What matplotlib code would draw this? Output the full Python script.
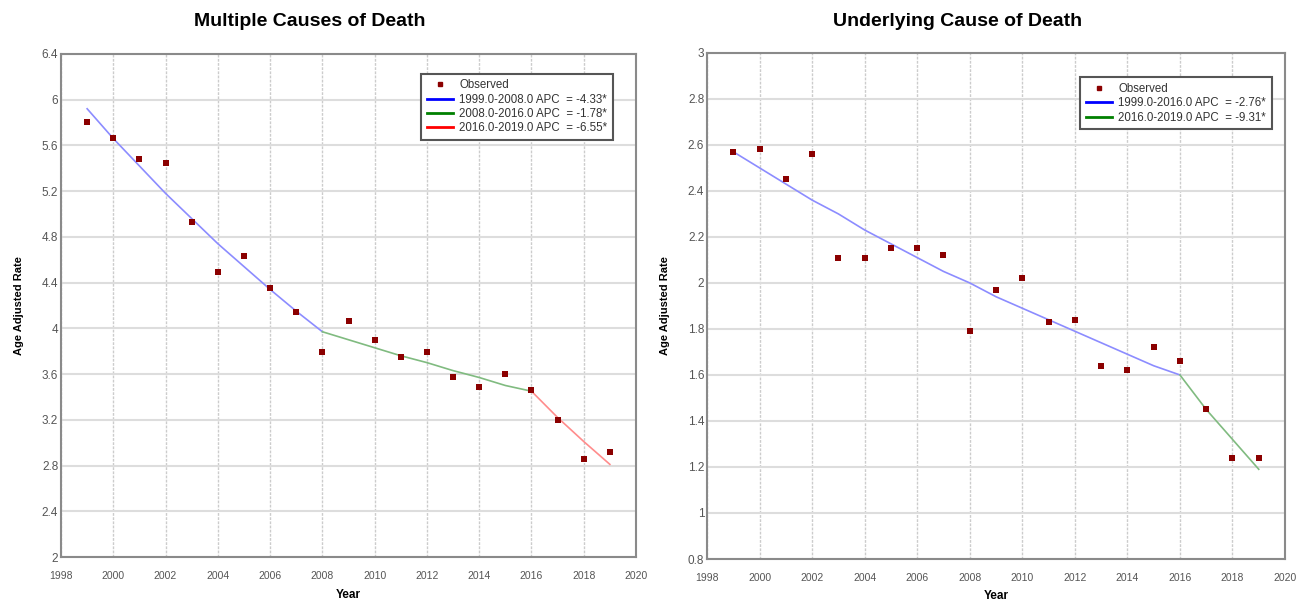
import matplotlib
matplotlib.use("Agg")
import matplotlib.pyplot as plt
from matplotlib.lines import Line2D

years = list(range(1999, 2020))

# Multiple causes of death
multi_observed = [5.80, 5.66, 5.48, 5.45, 4.93, 4.49, 4.63, 4.35, 4.14, 3.79, 4.06,
                  3.90, 3.75, 3.79, 3.57, 3.49, 3.60, 3.46, 3.20, 2.86, 2.92]
multi_fit_years = [[1999, 2000, 2001, 2002, 2003, 2004, 2005, 2006, 2007, 2008],
                   [2008, 2009, 2010, 2011, 2012, 2013, 2014, 2015, 2016],
                   [2016, 2017, 2018, 2019]]
multi_fit_values = [[5.92, 5.66, 5.42, 5.18, 4.96, 4.74, 4.54, 4.34, 4.15, 3.97],
                    [3.97, 3.90, 3.83, 3.76, 3.70, 3.63, 3.57, 3.50, 3.45],
                    [3.45, 3.22, 3.01, 2.81]]
multi_labels = ["1999.0-2008.0 APC  = -4.33*",
                "2008.0-2016.0 APC  = -1.78*",
                "2016.0-2019.0 APC  = -6.55*"]

# Underlying cause of death
under_observed = [2.57, 2.58, 2.45, 2.56, 2.11, 2.11, 2.15, 2.15, 2.12, 1.79, 1.97,
                  2.02, 1.83, 1.84, 1.64, 1.62, 1.72, 1.66, 1.45, 1.24, 1.24]
under_fit_years = [list(range(1999, 2017)), [2016, 2017, 2018, 2019]]
under_fit_values = [[2.57, 2.50, 2.43, 2.36, 2.30, 2.23, 2.17, 2.11, 2.05, 2.00,
                     1.94, 1.89, 1.84, 1.79, 1.74, 1.69, 1.64, 1.60],
                    [1.60, 1.45, 1.32, 1.19]]
under_labels = ["1999.0-2016.0 APC  = -2.76*",
                "2016.0-2019.0 APC  = -9.31*"]

legend_colors = ["#0000ff", "#008000", "#ff0000"]
line_colors = ["#8c8cff", "#80bb80", "#ff8c8c"]

plt.rcParams["font.family"] = ["Liberation Sans", "DejaVu Sans"]

fig = plt.figure(figsize=(12.98, 6.04), dpi=100)
ax1 = fig.add_axes([0.047, 0.0778, 0.443, 0.833])
ax2 = fig.add_axes([0.5447, 0.0745, 0.4453, 0.838])


def draw(ax, observed, fit_years, fit_values, labels, ylim, yticks, yticklabels, legend_bbox, xpad):
    for i in range(len(fit_years)):
        ax.plot(fit_years[i], fit_values[i], color=line_colors[i], lw=1.2, zorder=3)
    ax.scatter(years, observed, marker="s", s=17, color="#8b0000", zorder=4, linewidths=0)
    ax.set_xlim(1998, 2020)
    ax.set_ylim(*ylim)
    ax.set_xticks(range(1998, 2021, 2))
    ax.set_yticks(yticks)
    ax.set_yticklabels(yticklabels)
    ax.tick_params(length=0, labelsize=7.5, labelcolor="#555555")
    ax.tick_params(axis="x", pad=10)
    ax.tick_params(axis="y", pad=2, labelsize=8.5)
    ax.xaxis.grid(True, color="#cccccc", lw=1, ls=(0, (2, 1)))
    ax.yaxis.grid(True, color="#dddddd", lw=1.5, ls="-")
    ax.set_axisbelow(True)
    for s in ax.spines.values():
        s.set_color("#8a8a8a")
        s.set_linewidth(1.5)
    ax.set_xlabel("Year", fontsize=8.5, fontweight="bold", labelpad=xpad)
    ax.set_ylabel("Age Adjusted Rate", fontsize=8, fontweight="bold", labelpad=13)

    handles = [Line2D([], [], marker="s", ls="none", color="#8b0000", markersize=3.5)]
    for i in range(len(labels)):
        handles.append(Line2D([], [], color=legend_colors[i], lw=2))
    leg = ax.legend(handles, ["Observed"] + labels, loc="upper right", bbox_to_anchor=legend_bbox,
                    fontsize=8.3, frameon=True, fancybox=False, framealpha=1,
                    handlelength=2.3, handletextpad=0.5, borderpad=0.5, labelspacing=0.2)
    leg.get_frame().set_edgecolor("#555555")
    leg.get_frame().set_linewidth(1.5)
    for t in leg.get_texts():
        t.set_color("#333333")


draw(ax1, multi_observed, multi_fit_years, multi_fit_values, multi_labels,
     (2, 6.4), [2, 2.4, 2.8, 3.2, 3.6, 4, 4.4, 4.8, 5.2, 5.6, 6, 6.4],
     ["2", "2.4", "2.8", "3.2", "3.6", "4", "4.4", "4.8", "5.2", "5.6", "6", "6.4"],
     (0.97, 0.972), 6)
draw(ax2, under_observed, under_fit_years, under_fit_values, under_labels,
     (0.8, 3), [0.8, 1, 1.2, 1.4, 1.6, 1.8, 2, 2.2, 2.4, 2.6, 2.8, 3],
     ["0.8", "1", "1.2", "1.4", "1.6", "1.8", "2", "2.2", "2.4", "2.6", "2.8", "3"],
     (0.987, 0.963), 5)

fig.text(310 / 1298, 1 - 21 / 604, "Multiple Causes of Death", fontsize=14,
         fontweight="bold", ha="center", va="center")
fig.text(958 / 1298, 1 - 21 / 604, "Underlying Cause of Death", fontsize=14,
         fontweight="bold", ha="center", va="center")

fig.savefig("out.png", dpi=100)
